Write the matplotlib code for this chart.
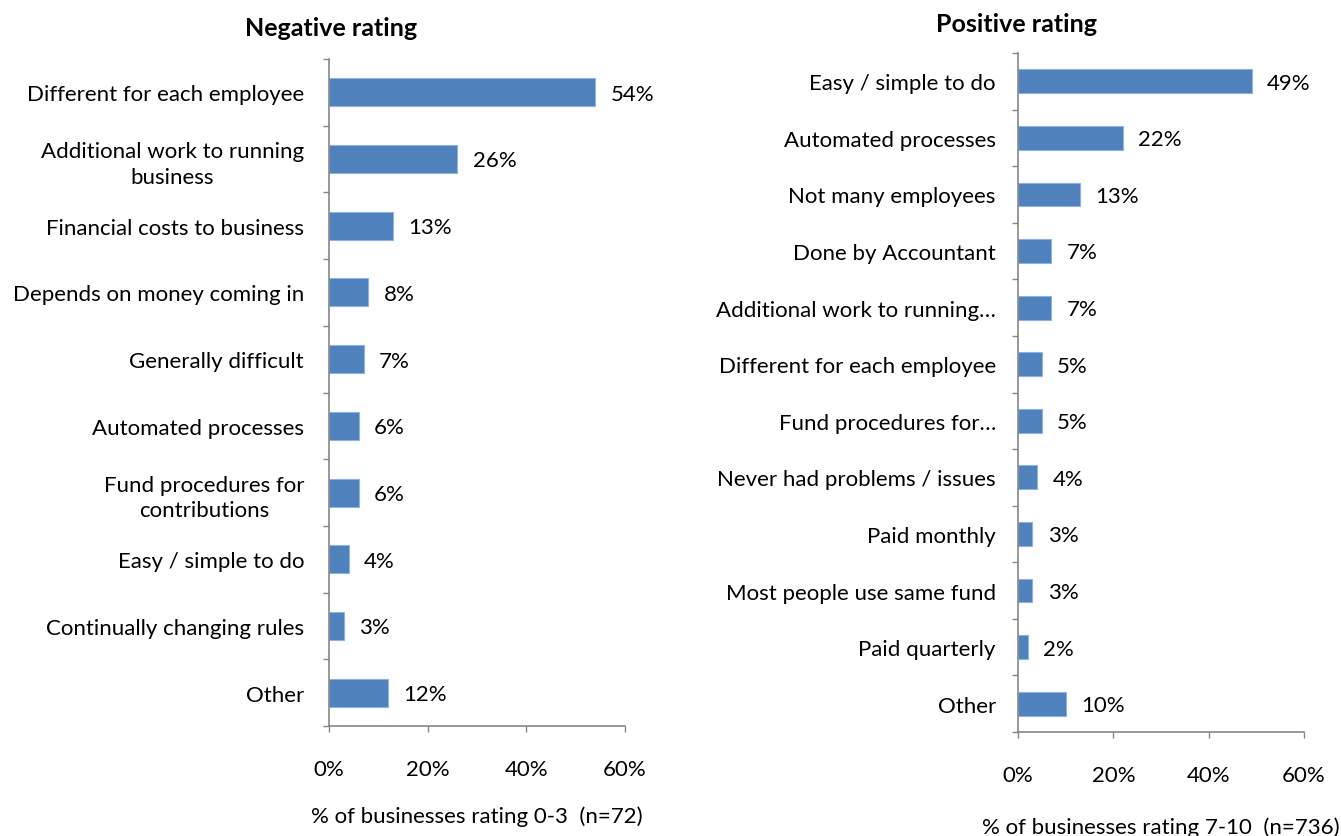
import matplotlib
matplotlib.use("Agg")
import matplotlib.pyplot as plt
import numpy as np
from matplotlib.ticker import FixedLocator

# ---------------------------------------------------------------------------
# Data
# ---------------------------------------------------------------------------
neg_labels = [
    "Different for each employee",
    "Additional work to running\nbusiness",
    "Financial costs to business",
    "Depends on money coming in",
    "Generally difficult",
    "Automated processes",
    "Fund procedures for\ncontributions",
    "Easy / simple to do",
    "Continually changing rules",
    "Other",
]
neg_values = [54, 26, 13, 8, 7, 6, 6, 4, 3, 12]

pos_labels = [
    "Easy / simple to do",
    "Automated processes",
    "Not many employees",
    "Done by Accountant",
    "Additional work to running\u2026",
    "Different for each employee",
    "Fund procedures for\u2026",
    "Never had problems / issues",
    "Paid monthly",
    "Most people use same fund",
    "Paid quarterly",
    "Other",
]
pos_values = [49, 22, 13, 7, 7, 5, 5, 4, 3, 3, 2, 10]

x_ticks = [0, 20, 40, 60]

# ---------------------------------------------------------------------------
# Style
# ---------------------------------------------------------------------------
W, H, DPI = 1341, 837, 100
BAR = "#4F81BD"
EDGE = "#8EB4E3"
AXIS = "#868686"
TEXT = "#000000"
FS = 16

plt.rcParams["font.family"] = ["Lato", "DejaVu Sans"]

fig = plt.figure(figsize=(W / DPI, H / DPI), dpi=DPI, facecolor="white")


def panel(rect, labels, values, xlabel, xlabel_pad, ypad):
    ax = fig.add_axes(rect)
    n = len(labels)
    y = np.arange(n)
    ax.barh(y, values, height=0.42, color=BAR, edgecolor=EDGE, linewidth=0.8)
    ax.set_ylim(n - 0.5, -0.5)
    ax.set_xlim(0, 60)
    ax.set_yticks(y)
    ax.set_yticklabels(labels, fontsize=FS, color=TEXT, linespacing=1.35,
                       multialignment="center")
    ax.yaxis.set_minor_locator(FixedLocator(np.arange(n + 1) - 0.5))
    ax.tick_params(axis="y", which="major", length=0, pad=ypad)
    ax.tick_params(axis="y", which="minor", length=4.5, width=1, color=AXIS)
    ax.set_xticks(x_ticks)
    ax.set_xticklabels([f"{t}%" for t in x_ticks], fontsize=FS, color=TEXT)
    ax.tick_params(axis="x", length=4.5, width=1, color=AXIS, pad=19)
    for s in ("top", "right"):
        ax.spines[s].set_visible(False)
    for s in ("left", "bottom"):
        ax.spines[s].set_color(AXIS)
        ax.spines[s].set_linewidth(1.2)
    for yi, v in zip(y, values):
        ax.annotate(f"{v}%", (v, yi), xytext=(11, -1), textcoords="offset points",
                    ha="left", va="center", fontsize=FS, color=TEXT)
    ax.set_xlabel(xlabel, fontsize=FS, color=TEXT, labelpad=xlabel_pad)
    return ax


ax1 = panel([329 / W, 1 - 727 / H, 296 / W, (727 - 60) / H],
            neg_labels, neg_values, "% of businesses rating 0-3  (n=72)", 19, 18)
ax2 = panel([1018 / W, 1 - 733 / H, 286 / W, (733 - 54) / H],
            pos_labels, pos_values, "% of businesses rating 7-10  (n=736)", 23, 16)

fig.text(331 / W, 1 - 28 / H, "Negative rating", ha="center", va="center",
         fontsize=18, fontweight="bold", color=TEXT)
fig.text(1016 / W, 1 - 24 / H, "Positive rating", ha="center", va="center",
         fontsize=18, fontweight="bold", color=TEXT)

fig.savefig("out.png", dpi=DPI, facecolor="white")
